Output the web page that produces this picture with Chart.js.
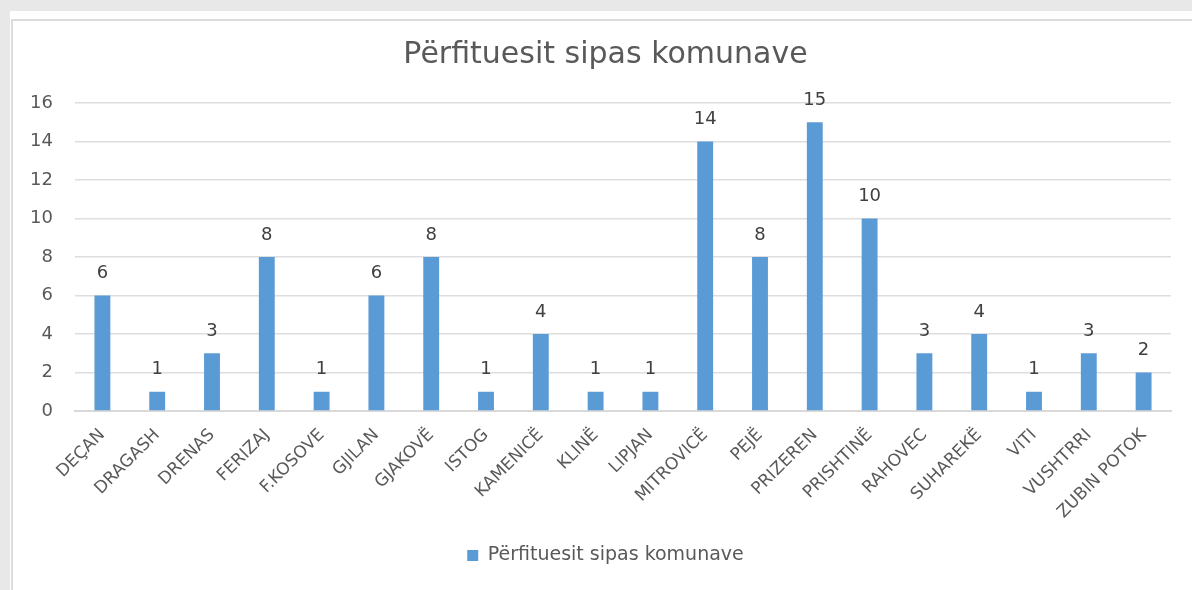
<!DOCTYPE html>
<html>
<head>
<meta charset="utf-8">
<script src="https://cdn.jsdelivr.net/npm/chart.js@4"></script>
<style>
  html, body { margin: 0; padding: 0; background: #e8e8e8; }
  #panel {
    position: absolute; left: 10px; top: 11px; width: 1182px; height: 579px;
    background: #fff;
  }
  #frame {
    position: absolute; left: 1px; top: 8px; right: 0; bottom: 0;
    border-top: 2px solid #dcdcdc; border-left: 2px solid #dcdcdc;
  }
  #wrap { position: absolute; left: 0; top: 0; width: 1192px; height: 590px; }
</style>
</head>
<body>
<div id="panel"><div id="frame"></div></div>
<div id="wrap"><canvas id="chart"></canvas></div>
<script>
const categories = ["DEÇAN", "DRAGASH", "DRENAS", "FERIZAJ", "F.KOSOVE", "GJILAN", "GJAKOVË", "ISTOG", "KAMENICË", "KLINË", "LIPJAN", "MITROVICË", "PEJË", "PRIZEREN", "PRISHTINË", "RAHOVEC", "SUHAREKË", "VITI", "VUSHTRRI", "ZUBIN POTOK"];
const values = [6, 1, 3, 8, 1, 6, 8, 1, 4, 1, 1, 14, 8, 15, 10, 3, 4, 1, 3, 2];
const seriesName = "Përfituesit sipas komunave";
const chartTitle = "Përfituesit sipas komunave";

const font = "'DejaVu Sans', sans-serif";

// value labels above each bar
const barLabels = {
  id: "barLabels",
  afterDatasetsDraw(chart) {
    const ctx = chart.ctx;
    const meta = chart.getDatasetMeta(0);
    ctx.save();
    ctx.font = "18px " + font;
    ctx.fillStyle = "#404040";
    ctx.textAlign = "center";
    ctx.textBaseline = "bottom";
    meta.data.forEach((bar, i) => {
      ctx.fillText(values[i], bar.x, bar.y - 13);
    });
    ctx.restore();
  }
};

const canvas = document.getElementById("chart");
canvas.width = 1192;
canvas.height = 590;

new Chart(canvas.getContext("2d"), {
  type: "bar",
  data: {
    labels: categories,
    datasets: [{
      label: seriesName,
      data: values,
      backgroundColor: "#5b9bd5",
      barPercentage: 0.29,
      categoryPercentage: 1.0
    }]
  },
  options: {
    responsive: false,
    animation: false,
    layout: { padding: { left: 40, right: 21, top: 37, bottom: 15 } },
    plugins: {
      title: {
        display: true,
        text: chartTitle,
        color: "#595959",
        font: { family: font, size: 30, weight: "normal" },
        padding: { top: 0, bottom: 30 }
      },
      legend: {
        position: "bottom",
        labels: {
          color: "#595959",
          font: { family: font, size: 19 },
          boxWidth: 11,
          boxHeight: 11,
          padding: 10
        }
      },
      tooltip: { enabled: false }
    },
    scales: {
      x: {
        grid: { display: false },
        border: { color: "#d9d9d9", width: 2 },
        ticks: {
          color: "#595959",
          font: { family: font, size: 17 },
          minRotation: 45,
          maxRotation: 45,
          autoSkip: false,
          padding: 6
        },
        afterFit(scale) { scale.height = 125; }
      },
      y: {
        min: 0,
        max: 16,
        grid: { color: "#dedede", lineWidth: 1.5, drawTicks: false },
        border: { display: false },
        ticks: {
          stepSize: 2,
          color: "#595959",
          font: { family: font, size: 18 },
          // mirrored so the labels can sit left of the axis box without clipping
          mirror: true,
          crossAlign: "far",
          padding: -45
        },
        afterFit(scale) { scale.width = 35; }
      }
    }
  },
  plugins: [barLabels]
});
</script>
</body>
</html>
